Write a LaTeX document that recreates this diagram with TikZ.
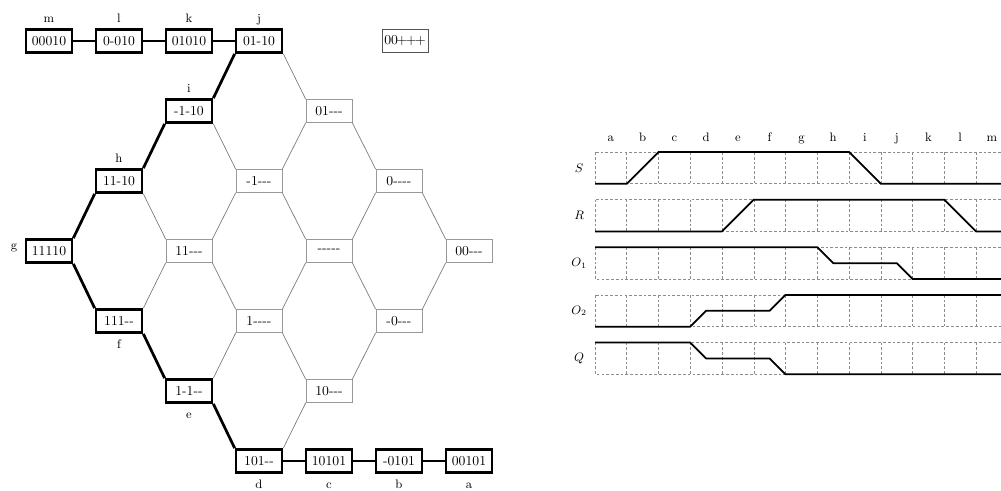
\documentclass[tikz,border=0pt]{standalone}
\definecolor{CUBEgray}{HTML}{999999}
\definecolor{EDGEgray}{HTML}{7A7A7A}
\definecolor{GRIDgray}{HTML}{8C8C8C}
\definecolor{FREEgray}{HTML}{555555}

\begin{document}
\begin{tikzpicture}[x=0.0257cm, y=-0.0257cm,
   cube/.style={draw=CUBEgray, line width=0.5pt, minimum width=1.18cm, minimum height=0.59cm, inner sep=0pt},
   pathcube/.style={draw=black, line width=2pt, minimum width=1.18cm, minimum height=0.59cm, inner sep=0pt},
   lattice/.style={EDGEgray, line width=0.5pt},
   route/.style={black, line width=2pt},
   tgrid/.style={GRIDgray, line width=0.4pt, dash pattern=on 2pt off 1.5pt},
   wave/.style={black, line width=1.3pt, line join=round},
   every label/.style={font=\small, text height=1.6ex, text depth=0.1ex}]
   \useasboundingbox (0,0) rectangle (1001,490);

   % Route: top row
   \node[pathcube, label=above:m] (m) at (49,41) {00010};
   \node[pathcube, label=above:l] (l) at (119,41) {0-010};
   \node[pathcube, label=above:k] (k) at (189,41) {01010};
   \node[pathcube, label=above:j] (j) at (259,41) {01-10};
   % Route: left flank
   \node[pathcube, label=above:i] (i) at (189,111) {-1-10};
   \node[pathcube, label=above:h] (h) at (119,181) {11-10};
   \node[pathcube, label={[label distance=2pt, yshift=4pt]left:g}] (g) at (49,251) {11110};
   \node[pathcube, label=below:f] (f) at (119,321) {111-{}-};
   \node[pathcube, label=below:e] (e) at (189,391) {1-1-{}-};
   % Route: bottom row
   \node[pathcube, label=below:d] (d) at (259,461) {101-{}-};
   \node[pathcube, label=below:c] (c) at (329,461) {10101};
   \node[pathcube, label=below:b] (b) at (399,461) {-0101};
   \node[pathcube, label=below:a] (a) at (469,461) {00101};

   % Inner cubes of the lattice
   \node[cube] (x01) at (329,111) {01-{}-{}-};
   \node[cube] (x11) at (259,181) {-1-{}-{}-};
   \node[cube] (x02) at (399,181) {0-{}-{}-{}-};
   \node[cube] (x21) at (189,251) {11-{}-{}-};
   \node[cube] (x12) at (329,251) {-{}-{}-{}-{}-};
   \node[cube] (x03) at (469,251) {00-{}-{}-};
   \node[cube] (x22) at (259,321) {1-{}-{}-{}-};
   \node[cube] (x13) at (399,321) {-0-{}-{}-};
   \node[cube] (x23) at (329,391) {10-{}-{}-};
   % Cube outside the lattice
   \node[cube, draw=FREEgray] (free) at (405,41) {00\kern-1pt+\kern-1pt+\kern-1pt+};

   % Lattice edges, down-right
   \draw[lattice] (j.south east) -- (x01.north west) (x01.south east) -- (x02.north west)
      (x02.south east) -- (x03.north west);
   \draw[lattice] (i.south east) -- (x11.north west) (x11.south east) -- (x12.north west)
      (x12.south east) -- (x13.north west);
   \draw[lattice] (h.south east) -- (x21.north west) (x21.south east) -- (x22.north west)
      (x22.south east) -- (x23.north west);
   % Lattice edges, down-left
   \draw[lattice] (x01.south west) -- (x11.north east) (x11.south west) -- (x21.north east)
      (x21.south west) -- (f.north east);
   \draw[lattice] (x02.south west) -- (x12.north east) (x12.south west) -- (x22.north east)
      (x22.south west) -- (e.north east);
   \draw[lattice] (x03.south west) -- (x13.north east) (x13.south west) -- (x23.north east)
      (x23.south west) -- (d.north east);

   % The route itself
   \draw[route] (m) -- (l) -- (k) -- (j);
   \draw[route] (j.south west) -- (i.north east) (i.south west) -- (h.north east)
      (h.south west) -- (g.north east);
   \draw[route] (g.south east) -- (f.north west) (f.south east) -- (e.north west)
      (e.south east) -- (d.north west);
   \draw[route] (d) -- (c) -- (b) -- (a);

   % Timing diagram
   \begin{scope}[shift={(595,152)}, x=0.816cm, y=-0.816cm]
      % column letters
      \foreach \l [count=\c from 0] in {a,...,m}
         \node[anchor=base, font=\small] (col-\l) at (\c+0.5,-0.33) {\l};
      % dashed cells
      \foreach \r in {0,...,4} {
         \draw[tgrid] (0,1.5*\r) rectangle (13,1.5*\r+1);
         \foreach \c in {1,...,12}
            \draw[tgrid] (\c,1.5*\r) -- (\c,1.5*\r+1);
      }
      % signal names
      \node[font=\small] (sig-S) at (-0.5,0.5) {$S$};
      \node[font=\small] (sig-R) at (-0.5,2) {$R$};
      \node[font=\small] (sig-O1) at (-0.5,3.5) {$O_1$};
      \node[font=\small] (sig-O2) at (-0.5,5) {$O_2$};
      \node[font=\small] (sig-Q) at (-0.5,6.5) {$Q$};
      % waveforms
      \draw[wave] (0,1) -- (1,1) -- (2,0) -- (8,0) -- (9,1) -- (13,1);
      \draw[wave] (0,2.5) -- (4,2.5) -- (5,1.5) -- (11,1.5) -- (12,2.5) -- (13,2.5);
      \draw[wave] (0,3) -- (7,3) -- (7.5,3.5) -- (9.5,3.5) -- (10,4) -- (13,4);
      \draw[wave] (0,5.5) -- (3,5.5) -- (3.5,5) -- (5.5,5) -- (6,4.5) -- (13,4.5);
      \draw[wave] (0,6) -- (3,6) -- (3.5,6.5) -- (5.5,6.5) -- (6,7) -- (13,7);
   \end{scope}
\end{tikzpicture}
\end{document}
